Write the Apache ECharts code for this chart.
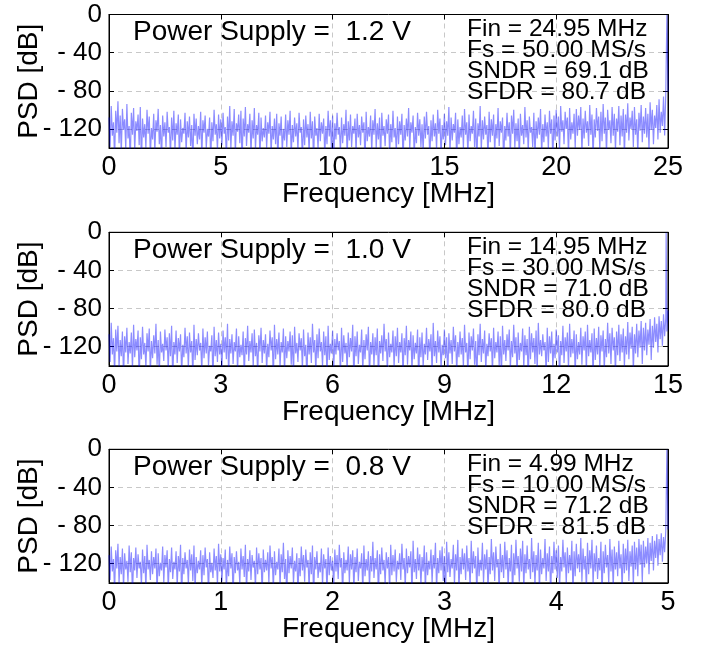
<!DOCTYPE html>
<html>
<head>
<meta charset="utf-8">
<script src="https://cdn.jsdelivr.net/npm/echarts@6/dist/echarts.min.js"></script>
<style>
  html, body { margin: 0; padding: 0; background: #fff; }
  #chart { width: 701px; height: 645px; }
</style>
</head>
<body>
<div id="chart"></div>
<script>
// Output spectra of the ADC at three supply voltages (PSD in dB vs. frequency)

// --- 1.2 V supply: Fs = 50 MS/s, spectrum 0..25 MHz, bin step 0.05 MHz
const supply1 = '1.2 V';
const span1 = 25, step1 = 0.05, tick1 = 5;
const fin1 = 24.95, tone1 = -0.5;
const info1 = ['Fin = 24.95 MHz', 'Fs = 50.00 MS/s', 'SNDR = 69.1 dB', 'SFDR = 80.7 dB'];
const psd1 = [
  -108,-139,-96,-127,-113,-152,-101,-124,-91,-135,-106,-146,-99,-121,-110,-141,-94,-130,-117,-155,
  -103,-126,-98,-143,-112,-122,-105,-137,-97,-158,-109,-129,-115,-140,-100,-125,-107,-148,-119,-131,
  -104,-144,-111,-123,-99,-136,-116,-153,-106,-128,-113,-139,-102,-124,-118,-147,-108,-132,-101,-142,
  -114,-126,-105,-151,-110,-134,-119,-125,-103,-145,-112,-129,-107,-138,-116,-156,-104,-127,-109,-136,
  -117,-131,-102,-149,-111,-124,-106,-140,-120,-128,-108,-154,-113,-133,-100,-126,-115,-143,-105,-130,
  -110,-137,-103,-125,-118,-150,-107,-132,-96,-141,-112,-127,-99,-146,-114,-123,-105,-135,-101,-157,
  -109,-128,-97,-138,-115,-124,-104,-148,-111,-130,-98,-142,-116,-126,-103,-153,-108,-133,-119,-129,
  -106,-140,-113,-125,-102,-147,-117,-131,-109,-136,-104,-155,-114,-127,-107,-144,-120,-132,-105,-139,
  -111,-126,-101,-149,-116,-134,-108,-128,-114,-143,-103,-124,-118,-151,-110,-137,-106,-129,-115,-145,
  -102,-130,-112,-156,-107,-127,-119,-141,-104,-133,-113,-125,-109,-148,-117,-136,-101,-128,-111,-142,
  -106,-154,-114,-131,-103,-126,-118,-144,-108,-135,-115,-127,-100,-150,-112,-132,-105,-139,-117,-125,
  -109,-146,-104,-129,-116,-137,-107,-124,-113,-157,-102,-133,-118,-128,-106,-143,-111,-126,-99,-140,
  -114,-131,-108,-152,-103,-127,-117,-138,-110,-125,-105,-147,-115,-134,-101,-129,-119,-144,-107,-136,
  -112,-126,-104,-155,-116,-132,-109,-128,-98,-141,-113,-124,-106,-149,-118,-135,-103,-127,-110,-139,
  -115,-145,-107,-130,-102,-126,-117,-153,-111,-133,-105,-128,-114,-142,-100,-125,-109,-150,-116,-131,
  -104,-137,-112,-127,-97,-146,-108,-132,-115,-124,-103,-156,-110,-136,-118,-129,-106,-141,-99,-126,
  -113,-148,-105,-133,-117,-125,-101,-139,-109,-154,-114,-128,-96,-143,-111,-131,-107,-126,-116,-151,
  -102,-134,-110,-127,-105,-145,-115,-130,-98,-138,-112,-124,-108,-157,-117,-132,-103,-128,-113,-147,
  -106,-125,-100,-140,-114,-133,-109,-152,-104,-127,-116,-136,-97,-129,-111,-144,-107,-124,-118,-139,
  -103,-150,-112,-130,-108,-126,-99,-147,-115,-134,-105,-128,-113,-141,-101,-125,-110,-155,-106,-132,
  -100,-128,-107,-143,-96,-123,-111,-136,-102,-120,-108,-149,-98,-131,-113,-125,-104,-140,-99,-127,
  -106,-121,-97,-145,-109,-130,-101,-124,-112,-138,-95,-126,-105,-152,-110,-129,-98,-122,-107,-141,
  -102,-133,-94,-125,-108,-147,-100,-121,-111,-135,-97,-127,-104,-143,-109,-123,-96,-137,-106,-128,
  -99,-150,-105,-124,-93,-132,-108,-120,-101,-139,-97,-126,-110,-146,-103,-122,-95,-134,-107,-125,
  -98,-129,-104,-142,-92,-121,-100,-136,-106,-119,-95,-131,-89,-124,-102,-117,-86,-127,-83,-114,
  -81
];

// --- 1.0 V supply: Fs = 30 MS/s, spectrum 0..15 MHz, bin step 0.03 MHz
const supply2 = '1.0 V';
const span2 = 15, step2 = 0.03, tick2 = 3;
const fin2 = 14.95, tone2 = -0.5;
const info2 = ['Fin = 14.95 MHz', 'Fs = 30.00 MS/s', 'SNDR = 71.0 dB', 'SFDR = 80.0 dB'];
const psd2 = [
  -107,-136,-95,-128,-111,-149,-102,-125,-98,-141,-113,-130,-104,-153,-109,-126,-100,-138,-115,-127,
  -105,-144,-97,-131,-112,-124,-103,-156,-110,-133,-99,-128,-116,-142,-106,-125,-101,-147,-114,-132,
  -108,-127,-96,-139,-113,-151,-104,-126,-117,-135,-102,-124,-110,-145,-106,-130,-98,-155,-115,-128,
  -103,-137,-111,-125,-107,-148,-118,-131,-100,-127,-109,-143,-105,-126,-114,-152,-97,-134,-112,-129,
  -106,-124,-116,-146,-101,-132,-110,-127,-104,-140,-119,-125,-108,-157,-99,-130,-113,-136,-105,-128,
  -117,-144,-103,-126,-110,-133,-96,-150,-112,-127,-107,-138,-115,-125,-101,-147,-109,-131,-118,-129,
  -104,-154,-111,-128,-98,-135,-114,-126,-106,-142,-102,-130,-116,-149,-108,-125,-100,-137,-113,-127,
  -107,-145,-117,-131,-103,-124,-110,-156,-97,-133,-112,-128,-105,-141,-115,-126,-101,-148,-109,-132,
  -114,-125,-104,-139,-108,-152,-99,-127,-116,-136,-106,-124,-111,-144,-102,-130,-118,-155,-105,-128,
  -110,-137,-96,-126,-113,-147,-107,-132,-101,-125,-115,-141,-104,-129,-109,-153,-98,-134,-117,-127,
  -103,-143,-112,-128,-106,-124,-114,-150,-100,-136,-108,-127,-116,-145,-105,-131,-111,-125,-97,-158,
  -109,-130,-104,-138,-118,-126,-102,-146,-113,-133,-107,-124,-99,-151,-115,-128,-106,-140,-110,-129,
  -101,-155,-114,-127,-108,-135,-96,-125,-112,-148,-105,-131,-117,-126,-103,-142,-109,-130,-100,-137,
  -115,-126,-106,-152,-111,-129,-98,-139,-113,-124,-104,-146,-108,-133,-116,-127,-102,-157,-110,-131,
  -105,-141,-117,-128,-100,-134,-112,-125,-107,-149,-95,-130,-114,-137,-103,-126,-109,-144,-118,-129,
  -102,-132,-110,-154,-106,-127,-113,-138,-99,-125,-108,-147,-115,-131,-104,-128,-111,-142,-97,-126,
  -116,-150,-105,-133,-109,-124,-101,-139,-114,-156,-107,-129,-96,-136,-112,-127,-103,-145,-117,-130,
  -106,-125,-111,-148,-100,-132,-115,-126,-104,-140,-109,-153,-98,-128,-113,-135,-107,-124,-102,-143,
  -114,-131,-97,-127,-110,-151,-105,-134,-116,-125,-101,-142,-108,-129,-112,-157,-99,-133,-106,-126,
  -111,-138,-103,-146,-95,-128,-113,-130,-107,-124,-115,-149,-100,-136,-109,-127,-104,-141,-117,-132,
  -102,-126,-108,-155,-114,-129,-98,-137,-110,-125,-105,-144,-96,-131,-112,-127,-103,-150,-107,-133,
  -115,-128,-100,-139,-109,-124,-104,-147,-97,-130,-113,-126,-106,-153,-101,-134,-111,-128,-99,-142,
  -108,-125,-103,-145,-112,-131,-95,-127,-106,-138,-100,-124,-110,-149,-104,-129,-97,-135,-107,-126,
  -101,-141,-109,-128,-94,-133,-105,-122,-99,-146,-107,-127,-96,-131,-103,-121,-93,-138,-100,-124,
  -95,-129,-102,-118,-91,-134,-98,-121,-89,-115,-96,-126,-88,-112,-93,-119,-86,-109,-90,-104,
  -82
];

// --- 0.8 V supply: Fs = 10 MS/s, spectrum 0..5 MHz, bin step 0.01 MHz
const supply3 = '0.8 V';
const span3 = 5, step3 = 0.01, tick3 = 1;
const fin3 = 4.99, tone3 = -0.5;
const info3 = ['Fin = 4.99 MHz', 'Fs = 10.00 MS/s', 'SNDR = 71.2 dB', 'SFDR = 81.5 dB'];
const psd3 = [
  -111,-137,-102,-128,-115,-150,-106,-125,-99,-141,-113,-131,-104,-146,-109,-126,-117,-139,-101,-129,
  -108,-154,-114,-127,-103,-135,-110,-125,-118,-143,-105,-130,-112,-148,-100,-126,-116,-137,-107,-131,
  -113,-125,-104,-152,-109,-133,-119,-127,-102,-140,-111,-124,-106,-147,-115,-129,-103,-136,-118,-126,
  -107,-144,-112,-128,-100,-157,-114,-131,-108,-125,-116,-142,-105,-127,-110,-138,-101,-149,-113,-130,
  -117,-126,-106,-145,-111,-132,-103,-124,-115,-151,-108,-129,-119,-135,-104,-127,-112,-143,-99,-128,
  -110,-139,-114,-126,-105,-148,-116,-133,-102,-125,-109,-155,-113,-130,-107,-127,-118,-141,-104,-126,
  -112,-134,-100,-150,-115,-128,-106,-137,-111,-124,-117,-146,-103,-131,-109,-126,-114,-153,-105,-129,
  -116,-127,-108,-140,-101,-125,-113,-148,-107,-132,-118,-126,-104,-144,-110,-129,-98,-136,-115,-156,
  -106,-130,-112,-125,-103,-141,-117,-128,-109,-152,-114,-133,-102,-127,-111,-139,-105,-124,-116,-146,
  -108,-131,-101,-157,-113,-126,-107,-135,-119,-129,-104,-143,-110,-125,-115,-150,-103,-132,-112,-127,
  -117,-144,-105,-128,-111,-136,-100,-124,-114,-153,-108,-130,-116,-127,-102,-140,-110,-126,-106,-148,
  -113,-129,-104,-138,-118,-125,-109,-151,-101,-133,-115,-127,-107,-145,-112,-128,-97,-135,-114,-126,
  -106,-155,-110,-131,-103,-127,-116,-142,-108,-125,-113,-149,-100,-132,-111,-128,-105,-139,-117,-126,
  -109,-137,-99,-126,-114,-146,-104,-130,-112,-124,-107,-154,-96,-129,-115,-136,-103,-127,-110,-143,
  -113,-128,-101,-150,-108,-132,-117,-126,-105,-140,-111,-125,-98,-147,-114,-130,-106,-127,-102,-138,
  -112,-156,-97,-129,-108,-134,-115,-125,-100,-142,-110,-127,-95,-149,-113,-131,-104,-126,-109,-137,
  -101,-128,-114,-145,-96,-130,-107,-125,-112,-153,-103,-133,-116,-127,-98,-140,-110,-126,-105,-148,
  -113,-131,-94,-127,-108,-138,-102,-124,-115,-151,-99,-129,-111,-135,-97,-126,-106,-144,-114,-128,
  -100,-157,-109,-132,-95,-125,-112,-139,-104,-128,-96,-147,-110,-130,-101,-126,-115,-136,-93,-129,
  -107,-143,-111,-127,-98,-150,-105,-131,-114,-125,-94,-138,-109,-128,-102,-154,-112,-130,-97,-126,
  -106,-135,-101,-146,-113,-128,-95,-124,-108,-141,-103,-130,-111,-127,-96,-152,-107,-133,-99,-125,
  -110,-129,-93,-139,-104,-126,-112,-148,-98,-131,-106,-125,-95,-143,-109,-128,-101,-136,-114,-127,
  -97,-155,-107,-130,-100,-124,-111,-140,-94,-128,-105,-146,-102,-126,-108,-133,-96,-125,-110,-149,
  -99,-130,-104,-127,-95,-138,-107,-123,-101,-144,-97,-126,-103,-133,-94,-121,-100,-140,-96,-124,
  -102,-120,-93,-131,-98,-117,-91,-127,-96,-114,-89,-122,-94,-111,-88,-118,-92,-108,-86,-105,
  -84
];

// y axis: PSD range and labelled ticks
const yMin = -140, yMax = 0;
const yTicks = [0, -40, -80, -120];

const FONT = "'Liberation Sans', Arial, Helvetica, sans-serif";

// FFT bins (k * step); the fundamental replaces its bin or is inserted between bins
function spectrum(values, step, fin, toneDb) {
  const pts = values.map((v, k) => [Math.round(k * step * 1e4) / 1e4, v]);
  const k = Math.round(fin / step);
  if (Math.abs(k * step - fin) < 1e-6) {
    pts[k] = [fin, toneDb];
  } else {
    pts.push([fin, toneDb]);
    pts.sort((a, b) => a[0] - b[0]);
  }
  return pts;
}

const panels = [
  { supply: supply1, span: span1, step: step1, tick: tick1, fin: fin1, tone: tone1, info: info1, psd: psd1, top: 14.5 },
  { supply: supply2, span: span2, step: step2, tick: tick2, fin: fin2, tone: tone2, info: info2, psd: psd2, top: 232.3 },
  { supply: supply3, span: span3, step: step3, tick: tick3, fin: fin3, tone: tone3, info: info3, psd: psd3, top: 449.3 }
];

const GRID_LEFT = 109, GRID_W = 559, GRID_H = 133.5;

const grids = [], xAxes = [], yAxes = [], series = [], graphics = [];

const gridLine = { show: true, lineStyle: { color: '#c8c8c8', type: [5, 4], width: 1 } };

panels.forEach((p, i) => {
  grids.push({ left: GRID_LEFT, top: p.top, width: GRID_W, height: GRID_H,
    containLabel: false, outerBoundsMode: 'none',
    show: true, borderColor: '#000', borderWidth: 1, backgroundColor: 'transparent' });

  // bottom x axis with labels
  xAxes.push({
    type: 'value', gridIndex: i, position: 'bottom', min: 0, max: p.span, interval: p.tick,
    name: 'Frequency [MHz]', nameLocation: 'middle', nameGap: 32, nameMoveOverlap: false,
    nameTextStyle: { fontFamily: FONT, fontSize: 28, color: '#000', verticalAlign: 'top' },
    axisLine: { show: true, onZero: false, lineStyle: { color: '#000', width: 1 } },
    axisTick: { show: true, inside: true, length: 5, lineStyle: { color: '#000' } },
    axisLabel: { show: true, margin: 6, fontFamily: FONT, fontSize: 27, color: '#000' },
    splitLine: gridLine
  });
  // mirrored top x axis (ticks only)
  xAxes.push({
    type: 'value', gridIndex: i, position: 'top', min: 0, max: p.span, interval: p.tick,
    axisLine: { show: true, onZero: false, lineStyle: { color: '#000', width: 1 } },
    axisTick: { show: true, inside: true, length: 5, lineStyle: { color: '#000' } },
    axisLabel: { show: false }, splitLine: { show: false }
  });
  // left y axis with labels
  yAxes.push({
    type: 'value', gridIndex: i, position: 'left', min: yMin, max: yMax,
    name: 'PSD [dB]', nameLocation: 'middle', nameGap: 66, nameRotate: 90, nameMoveOverlap: false,
    nameTextStyle: { fontFamily: FONT, fontSize: 28, color: '#000' },
    axisLine: { show: true, onZero: false, lineStyle: { color: '#000', width: 1 } },
    axisTick: { show: true, inside: true, length: 5, customValues: yTicks, lineStyle: { color: '#000' } },
    axisLabel: { show: true, margin: 7, fontFamily: FONT, fontSize: 26, color: '#000',
      customValues: yTicks,
      formatter: v => (v === 0 ? '0' : '- ' + Math.abs(v)) },
    splitLine: gridLine
  });
  // mirrored right y axis (ticks only)
  yAxes.push({
    type: 'value', gridIndex: i, position: 'right', min: yMin, max: yMax,
    axisLine: { show: true, onZero: false, lineStyle: { color: '#000', width: 1 } },
    axisTick: { show: true, inside: true, length: 5, customValues: yTicks, lineStyle: { color: '#000' } },
    axisLabel: { show: false }, splitLine: { show: false }
  });

  series.push({
    type: 'line', xAxisIndex: 2 * i, yAxisIndex: 2 * i,
    data: spectrum(p.psd, p.step, p.fin, p.tone),
    showSymbol: false, symbol: 'none', clip: true, sampling: null,
    lineStyle: { color: 'rgba(0,0,255,0.45)', width: 1.2 },
    silent: true, z: 1
  });

  graphics.push({
    type: 'text', left: 133, top: p.top + 4,
    style: { text: 'Power Supply =  ' + p.supply, fontFamily: FONT, fontSize: 28, fill: '#000' },
    z: 10
  });
  graphics.push({
    type: 'text', left: 467, top: p.top + 2,
    style: { text: p.info.join('\n'), fontFamily: FONT, fontSize: 24.5, lineHeight: 21.2, fill: '#000' },
    z: 10
  });
});

const chart = echarts.init(document.getElementById('chart'), null, { renderer: 'canvas' });
chart.setOption({
  animation: false,
  backgroundColor: '#fff',
  grid: grids,
  xAxis: xAxes,
  yAxis: yAxes,
  series: series,
  graphic: graphics
});
</script>
</body>
</html>
